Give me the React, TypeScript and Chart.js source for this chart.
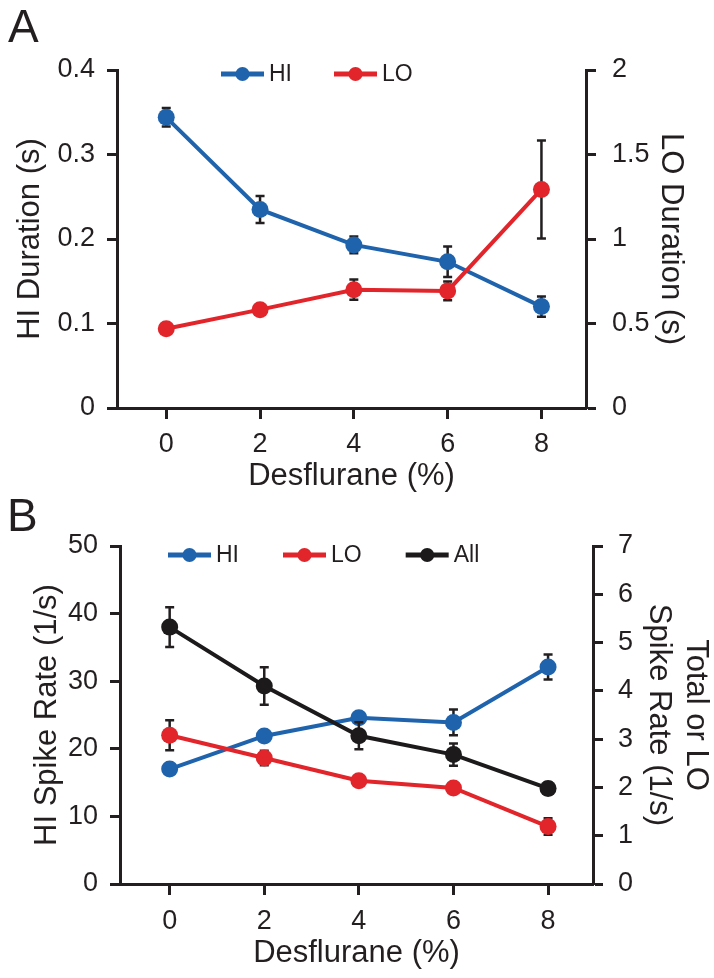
import React, { useEffect, useRef } from 'react';
import { Chart, registerables } from 'chart.js';

Chart.register(...registerables);

// ---------- data ----------
const desflurane = [0, 2, 4, 6, 8];
const xTickValues = [0, 2, 4, 6, 8];

// Panel A: durations
const hiDuration = [0.344, 0.235, 0.193, 0.173, 0.12];
const hiDurationErr = [0.011, 0.016, 0.01, 0.018, 0.012];
const loDuration = [0.469, 0.582, 0.7, 0.693, 1.293];
const loDurationErr = [0.02, 0.02, 0.06, 0.055, 0.29];
const hiDurationTicks = [0, 0.1, 0.2, 0.3, 0.4];
const loDurationTicks = [0, 0.5, 1, 1.5, 2];

// Panel B: spike rates
const hiRate = [17.0, 21.9, 24.6, 23.9, 32.1];
const hiRateErr = [0.8, 0.8, 0.8, 1.9, 1.85];
const loRate = [3.08, 2.61, 2.14, 1.99, 1.19];
const loRateErr = [0.31, 0.15, 0.1, 0.1, 0.17];
const allRate = [5.32, 4.1, 3.07, 2.68, 1.98];
const allRateErr = [0.41, 0.39, 0.28, 0.23, 0.12];
const hiRateTicks = [0, 10, 20, 30, 40, 50];
const totalRateTicks = [0, 1, 2, 3, 4, 5, 6, 7];

// ---------- styles ----------
const FONT = "'Liberation Sans', Arial, Helvetica, sans-serif";
const AXIS = '#231f20';
const BLUE = '#1f63ad';
const RED = '#e1252b';
const BLACK = '#1c1a1b';

const pts = (ys: number[]) => desflurane.map((x, i) => ({ x, y: ys[i] }));

const errorBars = {
  id: 'errorBars',
  beforeDatasetDraw(chart: any, args: any) {
    const ds = chart.data.datasets[args.index];
    const errs: number[] | undefined = ds.errors;
    if (!errs) return;
    const meta = args.meta;
    const yScale = chart.scales[meta.yAxisID];
    const ctx = chart.ctx;
    ctx.save();
    ctx.strokeStyle = AXIS;
    ctx.lineWidth = 2.5;
    meta.data.forEach((pt: any, i: number) => {
      const v = ds.data[i].y;
      const top = yScale.getPixelForValue(v + errs[i]);
      const bot = yScale.getPixelForValue(v - errs[i]);
      const cap = 4.5;
      ctx.beginPath();
      ctx.moveTo(pt.x, top);
      ctx.lineTo(pt.x, bot);
      ctx.moveTo(pt.x - cap, top);
      ctx.lineTo(pt.x + cap, top);
      ctx.moveTo(pt.x - cap, bot);
      ctx.lineTo(pt.x + cap, bot);
      ctx.stroke();
    });
    ctx.restore();
  },
};

const lineLegend = {
  id: 'lineLegend',
  afterDraw(chart: any, _a: any, opts: any) {
    if (!opts || !opts.display) return;
    const ctx = chart.ctx;
    const area = chart.chartArea;
    let x = area.left + opts.offsetX;
    const y = area.top + opts.offsetY;
    ctx.save();
    ctx.font = `${opts.fontSize}px ${FONT}`;
    ctx.textBaseline = 'middle';
    ctx.textAlign = 'left';
    chart.data.datasets.forEach((ds: any) => {
      const len = opts.lineLength;
      ctx.strokeStyle = ds.borderColor;
      ctx.lineWidth = 5;
      ctx.beginPath();
      ctx.moveTo(x, y);
      ctx.lineTo(x + len, y);
      ctx.stroke();
      ctx.fillStyle = ds.borderColor;
      ctx.beginPath();
      ctx.arc(x + len / 2, y, 7, 0, Math.PI * 2);
      ctx.fill();
      ctx.fillStyle = AXIS;
      const tx = x + len + 5;
      ctx.fillText(ds.label, tx, y + 1);
      x = tx + ctx.measureText(ds.label).width + opts.gap;
    });
    ctx.restore();
  },
};

const tickFont = { size: 27, family: FONT };
const titleFont = { size: 31, family: FONT, lineHeight: 1.2 };

function yAxis(position: string, min: number, max: number, ticks: number[], width: number, title: string | string[], titlePad: number, labelPad: number) {
  return {
    type: 'linear',
    position,
    min,
    max,
    bounds: 'data',
    afterBuildTicks: (s: any) => {
      s.ticks = ticks.map((v) => ({ value: v }));
    },
    afterFit: (s: any) => {
      s.width = width;
    },
    ticks: {
      color: AXIS,
      font: tickFont,
      padding: labelPad,
      autoSkip: false,
      callback: (v: any) => String(v),
    },
    grid: { drawOnChartArea: false, drawTicks: true, tickLength: 10, tickWidth: 3, tickColor: AXIS },
    border: { display: true, width: 3, color: AXIS },
    title: { display: true, text: title, color: AXIS, font: titleFont, padding: { top: titlePad, bottom: 0 } },
  };
}

function xAxis(height: number, titlePadBottom: number, labelPad: number) {
  return {
    type: 'linear',
    position: 'bottom',
    min: -1.05,
    max: 8.95,
    bounds: 'data',
    afterBuildTicks: (s: any) => {
      s.ticks = xTickValues.map((v) => ({ value: v }));
    },
    afterFit: (s: any) => {
      s.height = height;
    },
    ticks: {
      color: AXIS,
      font: tickFont,
      padding: labelPad,
      autoSkip: false,
      maxRotation: 0,
      callback: (v: any) => String(v),
    },
    grid: { drawOnChartArea: false, drawTicks: true, tickLength: 11, tickWidth: 3, tickColor: AXIS },
    border: { display: true, width: 3, color: AXIS },
    title: { display: true, text: 'Desflurane (%)', color: AXIS, font: titleFont, padding: { top: 0, bottom: titlePadBottom } },
  };
}

function series(label: string, ys: number[], errs: number[], color: string, axis: string, order: number) {
  return {
    label,
    data: pts(ys),
    errors: errs,
    yAxisID: axis,
    borderColor: color,
    backgroundColor: color,
    borderWidth: 4,
    pointRadius: 8.5,
    pointHoverRadius: 8.5,
    pointBorderWidth: 0,
    pointBackgroundColor: color,
    tension: 0,
    order,
    clip: false,
  };
}

function baseOptions(padTop: number, legend: any, scales: any) {
  return {
    responsive: false,
    animation: false,
    devicePixelRatio: 1,
    events: [],
    layout: { padding: { top: padTop, left: 0, right: 0, bottom: 0 } },
    plugins: {
      legend: { display: false },
      tooltip: { enabled: false },
      title: { display: false },
      lineLegend: legend,
    },
    scales,
  };
}

export default function App() {
  const refA = useRef<HTMLCanvasElement>(null);
  const refB = useRef<HTMLCanvasElement>(null);

  useEffect(() => {
    const chartA = new Chart(refA.current as HTMLCanvasElement, {
      type: 'line',
      data: {
        datasets: [
          series('HI', hiDuration, hiDurationErr, BLUE, 'yHi', 2),
          series('LO', loDuration, loDurationErr, RED, 'yLo', 1),
        ] as any,
      },
      options: baseOptions(
        70,
        { display: true, offsetX: 104, offsetY: 4, lineLength: 43, gap: 42, fontSize: 23 },
        {
          x: xAxis(87, 0, 9),
          yHi: yAxis('left', 0, 0.4, hiDurationTicks, 117, 'HI Duration (s)', 12, 12),
          yLo: yAxis('right', 0, 2, loDurationTicks, 128, 'LO Duration (s)', 25, 16),
        }
      ) as any,
      plugins: [errorBars, lineLegend],
    });

    const chartB = new Chart(refB.current as HTMLCanvasElement, {
      type: 'line',
      data: {
        datasets: [
          series('HI', hiRate, hiRateErr, BLUE, 'yHi', 3),
          series('LO', loRate, loRateErr, RED, 'yTot', 2),
          series('All', allRate, allRateErr, BLACK, 'yTot', 1),
        ] as any,
      },
      options: baseOptions(
        51,
        { display: true, offsetX: 48, offsetY: 9, lineLength: 43, gap: 44, fontSize: 23 },
        {
          x: xAxis(94, 6, 10),
          yHi: yAxis('left', 0, 50, hiRateTicks, 120, 'HI Spike Rate (1/s)', 29, 12),
          yTot: yAxis('right', 0, 7, totalRateTicks, 121, ['Total or LO', 'Spike Rate (1/s)'], 0, 15),
        }
      ) as any,
      plugins: [errorBars, lineLegend],
    });

    return () => {
      chartA.destroy();
      chartB.destroy();
    };
  }, []);

  const letter: React.CSSProperties = {
    position: 'absolute',
    fontFamily: FONT,
    fontSize: 46,
    lineHeight: 1,
    color: AXIS,
    margin: 0,
  };

  return (
    <div style={{ position: 'absolute', left: 0, top: 0, width: 714, height: 978, background: '#fff', overflow: 'hidden' }}>
      <canvas ref={refA} width={714} height={495} style={{ position: 'absolute', left: 0, top: 0, width: 714, height: 495 }} />
      <canvas ref={refB} width={714} height={483} style={{ position: 'absolute', left: 0, top: 495, width: 714, height: 483 }} />
      <div style={{ ...letter, left: 8, top: 3 }}>A</div>
      <div style={{ ...letter, left: 7, top: 492 }}>B</div>
    </div>
  );
}
